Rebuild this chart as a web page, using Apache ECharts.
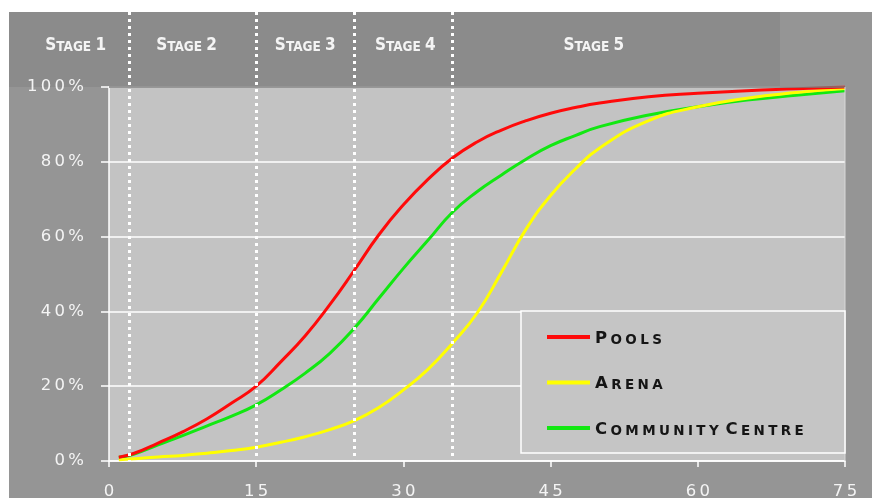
<!DOCTYPE html>
<html><head><meta charset="utf-8">
<script src="https://cdn.jsdelivr.net/npm/echarts@6/dist/echarts.min.js"></script>
<style>html,body{margin:0;padding:0;background:#fff}#c{width:872px;height:498px}</style>
</head><body><div id="c"></div>
<script>
// ---- data ----
const xValues         = [1, 2.5, 5, 7.5, 10, 12.5, 15, 17.5, 20, 22.5, 25, 27.5, 30, 32.5, 35, 37.5, 40, 42.5, 45, 47.5, 50, 55, 60, 65, 70, 75];
const poolsValues     = [1, 2, 4.8, 7.8, 11.3, 15.5, 20, 26.5, 33.5, 41.8, 51, 60.5, 68.5, 75.3, 81, 85.3, 88.5, 91, 93, 94.5, 95.7, 97.4, 98.3, 99, 99.5, 100];
const arenaValues     = [0.3, 0.6, 1.1, 1.5, 2.1, 2.8, 3.7, 5, 6.5, 8.4, 10.8, 14.3, 19, 24.5, 31.5, 39.5, 50.5, 62, 71, 78, 83.7, 91, 94.7, 97, 98.5, 99.6];
const communityValues = [1, 1.8, 4.3, 6.8, 9.4, 12, 15, 19, 23.5, 28.8, 35.5, 43.5, 51.5, 59, 66.5, 72, 76.5, 80.7, 84.3, 87, 89.4, 92.5, 94.7, 96.5, 97.8, 99];
const seriesNames     = ['Pools', 'Arena', 'Community Centre'];
const xTicks          = [0, 15, 30, 45, 60, 75];
const yTicks          = [0, 20, 40, 60, 80, 100];
const stageBounds     = [2, 15, 25, 35];
const stageNames      = ['Stage 1', 'Stage 2', 'Stage 3', 'Stage 4', 'Stage 5'];
const stageLabelAt    = [-3.4, 7.9, 20, 30.2, 49.4];

const FONT = 'DejaVu Sans';
const CFONT = '"DejaVu Sans Condensed", "Liberation Sans Narrow", "DejaVu Sans"';
function spaced(s, sep){ return s.split('').join(sep); }
function smallCaps(str, sep, wordGap){
  return str.split(' ').map(w => {
    const first = w[0], rest = w.slice(1).toUpperCase();
    let out = '{b|' + first + '}';
    if (rest) out += '{s|' + sep + spaced(rest, sep) + '}';
    return out;
  }).join('{s|' + wordGap + '}');
}
const pairs = vals => xValues.map((x, i) => [x, vals[i]]);

const chart = echarts.init(document.getElementById('c'), null, {renderer: 'canvas'});
const colors = ['#ff0a0a', '#ffff00', '#12e812'];

chart.setOption({
  backgroundColor: '#959595',
  animation: false,
  grid: {left: 109, right: 27, top: 87, bottom: 37, show: true, backgroundColor: '#c3c3c3', borderWidth: 0,
         containLabel: false, outerBoundsMode: 'none'},
  xAxis: {
    type: 'value', min: xTicks[0], max: xTicks[xTicks.length-1], interval: 15,
    axisLine: {show: true, lineStyle: {color: '#ffffff', width: 1.5}},
    axisTick: {show: true, length: 6, lineStyle: {color: '#ffffff', width: 1.5}},
    splitLine: {show: false},
    axisLabel: {margin: 22, color: '#f4f4f4', fontFamily: FONT, fontSize: 16.5, formatter: v => spaced(String(v), '\u2009')}
  },
  yAxis: {
    type: 'value', min: yTicks[0], max: yTicks[yTicks.length-1], interval: 20,
    axisLine: {show: true, lineStyle: {color: '#ffffff', width: 1.5}},
    axisTick: {show: true, length: 8, lineStyle: {color: '#ffffff', width: 1.5}},
    splitLine: {show: true, lineStyle: {color: '#ffffff', width: 1.5}},
    axisLabel: {margin: 25, color: '#f4f4f4', fontFamily: FONT, fontSize: 16.5, formatter: v => spaced(v + '%', '\u2009')}
  },
  legend: {
    orient: 'vertical', left: 547, top: 327, padding: 0, itemGap: 25.5, z: 30,
    itemWidth: 43, itemHeight: 4, icon: 'rect', itemStyle: {borderWidth: 0},
    data: seriesNames,
    formatter: n => smallCaps(n, '\u2005', '\u2002'),
    textStyle: {
      lineHeight: 20,
      rich: {
        b: {fontFamily: FONT, fontWeight: 'bold', fontSize: 16.5, color: '#151515', lineHeight: 20, verticalAlign: 'bottom'},
        s: {fontFamily: FONT, fontWeight: 'bold', fontSize: 13.5, color: '#151515', lineHeight: 20, verticalAlign: 'bottom'}
      }
    }
  },
  series: [
    {name: seriesNames[0], type: 'line', smooth: true, showSymbol: false, symbol: 'none', data: pairs(poolsValues), lineStyle: {color: colors[0], width: 3}, itemStyle: {color: colors[0]}, z: 5},
    {name: seriesNames[1], type: 'line', smooth: true, showSymbol: false, symbol: 'none', data: pairs(arenaValues), lineStyle: {color: colors[1], width: 3}, itemStyle: {color: colors[1]}, z: 4},
    {name: seriesNames[2], type: 'line', smooth: true, showSymbol: false, symbol: 'none', data: pairs(communityValues), lineStyle: {color: colors[2], width: 3}, itemStyle: {color: colors[2]}, z: 3}
  ]
});

// ---- overlays placed through the axis scale ----
const W = 872, H = 498, TOP = 12, LEFT = 9;
const px = v => chart.convertToPixel({xAxisIndex: 0}, v);
const py = v => chart.convertToPixel({yAxisIndex: 0}, v);
const yTop = py(100), yBot = py(0), xRight = px(75);
const graphics = [
  {type: 'rect', shape: {x: LEFT, y: TOP, width: 780 - LEFT, height: yTop - TOP}, style: {fill: '#8b8b8b'}, z: -1},
  {type: 'rect', shape: {x: 0, y: 0, width: W, height: TOP}, style: {fill: '#ffffff'}, z: -1},
  {type: 'rect', shape: {x: 0, y: 0, width: LEFT, height: H}, style: {fill: '#ffffff'}, z: -1},
  {type: 'line', shape: {x1: px(0), y1: yTop, x2: xRight, y2: yTop}, style: {stroke: '#7a7a7a', lineWidth: 1.5}, z: 20},
  {type: 'line', shape: {x1: xRight, y1: yTop, x2: xRight, y2: yBot}, style: {stroke: '#d8d8d8', lineWidth: 1}, z: 20},
  // legend box
  {type: 'rect', shape: {x: 521, y: 311, width: xRight - 521, height: 142}, style: {fill: '#c5c5c5', stroke: '#ffffff', lineWidth: 1.5}, z: 25}
];
stageBounds.forEach(b => {
  const x = Math.round(px(b)) + 0.5;
  graphics.push({type: 'line', shape: {x1: x, y1: TOP, x2: x, y2: yBot}, style: {stroke: '#ffffff', lineWidth: 3, lineDash: [3, 4]}, z: 22});
});
stageNames.forEach((n, i) => {
  graphics.push({type: 'text', z: 22, style: {
    text: smallCaps(n, '', ' '), x: px(stageLabelAt[i]), y: 44, align: 'center', verticalAlign: 'middle',
    rich: {
      b: {fontFamily: CFONT, fontWeight: 'bold', fontSize: 17, fill: '#f4f4f4', lineHeight: 20, verticalAlign: 'bottom'},
      s: {fontFamily: CFONT, fontWeight: 'bold', fontSize: 13.5, fill: '#f4f4f4', lineHeight: 20, verticalAlign: 'bottom'}
    }
  }});
});
chart.setOption({graphic: graphics});
</script></body></html>
